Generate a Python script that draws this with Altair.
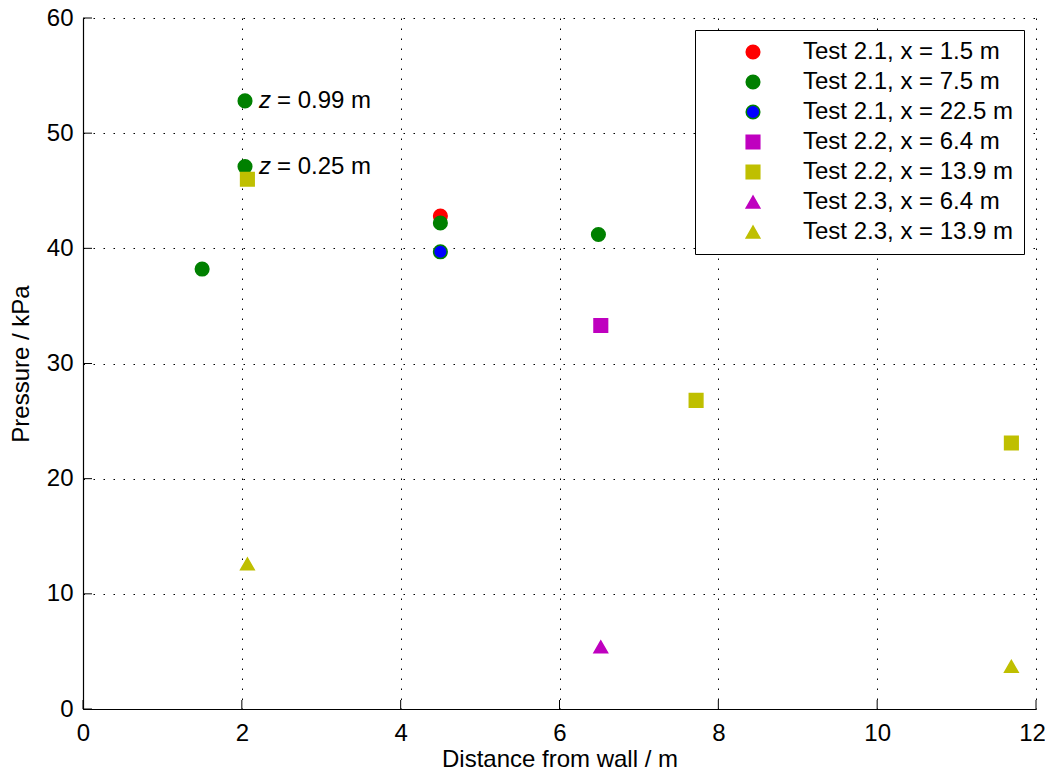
import altair as alt
import pandas as pd

FONT = "Liberation Sans"

# ---- data ----
series_names = [
    "Test 2.1, x = 1.5 m",
    "Test 2.1, x = 7.5 m",
    "Test 2.1, x = 22.5 m",
    "Test 2.2, x = 6.4 m",
    "Test 2.2, x = 13.9 m",
    "Test 2.3, x = 6.4 m",
    "Test 2.3, x = 13.9 m",
]
series_fill = ["#ff0000", "#008000", "#0000ff", "#bf00bf", "#bfbf00", "#bf00bf", "#bfbf00"]
series_stroke = ["#ff0000", "#008000", "#008000", "#bf00bf", "#bfbf00", "#bf00bf", "#bfbf00"]
series_shape = ["circle", "circle", "circle", "square", "square", "triangle-up", "triangle-up"]
series_size = [185, 185, 185, 130, 130, 190, 190]

t21_x15_dist = [4.5]
t21_x15_p = [42.8]
t21_x75_dist = [1.5, 2.04, 2.04, 4.5, 6.49]
t21_x75_p = [38.2, 52.8, 47.1, 42.2, 41.2]
t21_x225_dist = [4.5]
t21_x225_p = [39.7]
t22_x64_dist = [6.52]
t22_x64_p = [33.3]
t22_x139_dist = [2.07, 7.72, 11.69]
t22_x139_p = [46.0, 26.8, 23.1]
t23_x64_dist = [6.52]
t23_x64_p = [5.4]
t23_x139_dist = [2.07, 11.69]
t23_x139_p = [12.6, 3.7]

ann_dist = [2.04, 2.04]
ann_p = [52.8, 47.1]
ann_var = ["z", "z"]
ann_rest = ["= 0.99 m", "= 0.25 m"]

x_ticks = [0, 2, 4, 6, 8, 10, 12]
y_ticks = [0, 10, 20, 30, 40, 50, 60]

PLOT_W = 953
PLOT_H = 691
TICK_LEN = 9

# ---- table ----
groups = [
    (t21_x15_dist, t21_x15_p),
    (t21_x75_dist, t21_x75_p),
    (t21_x225_dist, t21_x225_p),
    (t22_x64_dist, t22_x64_p),
    (t22_x139_dist, t22_x139_p),
    (t23_x64_dist, t23_x64_p),
    (t23_x139_dist, t23_x139_p),
]
rows = []
for name, (ds, ps) in zip(series_names, groups):
    for d, p in zip(ds, ps):
        rows.append({"series": name, "dist": d, "pressure": p})
df = pd.DataFrame(rows)
ann_df = pd.DataFrame({"dist": ann_dist, "pressure": ann_p, "var": ann_var, "rest": ann_rest})
xt_df = pd.DataFrame({"v": x_ticks})
yt_df = pd.DataFrame({"v": y_ticks})

x_scale = alt.Scale(domain=[0, 12], nice=False, zero=False)
y_scale = alt.Scale(domain=[0, 60], nice=False, zero=False)

legend = alt.Legend(
    title=None, orient="top-right", offset=12, padding=10,
    strokeColor="black", fillColor="white", cornerRadius=0,
    labelFont=FONT, labelFontSize=24, labelColor="black", labelLimit=400,
    symbolOffset=36, labelOffset=38, rowPadding=6, symbolStrokeWidth=1.5,
)

main_x_axis = alt.Axis(
    orient="bottom", values=x_ticks, ticks=False, domain=True, domainColor="black",
    domainWidth=1.2, grid=True, gridColor="black", gridDash=[1.5, 8.5], gridWidth=1,
    labelFont=FONT, labelFontSize=24, labelColor="black", labelPadding=12,
    labelFlush=False, labelOverlap=False,
    labelOffset={"condition": {"test": "datum.value == 12", "value": -4}, "value": 0},
    title="Distance from wall / m", titleFont=FONT, titleFontSize=24,
    titleFontWeight="normal", titleColor="black", titlePadding=2,
)
main_y_axis = alt.Axis(
    orient="left", values=y_ticks, ticks=False, domain=True, domainColor="black",
    domainWidth=1.2, grid=True, gridColor="black", gridDash=[1.5, 8.5], gridWidth=1,
    labelFont=FONT, labelFontSize=24, labelColor="black", labelPadding=10,
    labelFlush=False, labelOverlap=False,
    title="Pressure / kPa", titleFont=FONT, titleFontSize=24,
    titleFontWeight="normal", titleColor="black", titlePadding=13,
)

points = alt.Chart(df).mark_point(filled=True, opacity=1, strokeWidth=1.5).encode(
    x=alt.X("dist:Q", scale=x_scale, axis=main_x_axis),
    y=alt.Y("pressure:Q", scale=y_scale, axis=main_y_axis),
    fill=alt.Fill("series:N", scale=alt.Scale(domain=series_names, range=series_fill), legend=legend),
    stroke=alt.Stroke("series:N", scale=alt.Scale(domain=series_names, range=series_stroke), legend=legend),
    shape=alt.Shape("series:N", scale=alt.Scale(domain=series_names, range=series_shape), legend=legend),
    size=alt.Size("series:N", scale=alt.Scale(domain=series_names, range=series_size), legend=legend),
)

# inward-pointing axis ticks (positions along the axis come from the scales)
x_tick_marks = alt.Chart(xt_df).mark_rule(color="black", strokeWidth=1).encode(
    x=alt.X("v:Q", scale=x_scale, axis=None),
    y=alt.value(PLOT_H),
    y2=alt.value(PLOT_H - TICK_LEN),
)
y_tick_marks = alt.Chart(yt_df).mark_rule(color="black", strokeWidth=1).encode(
    y=alt.Y("v:Q", scale=y_scale, axis=None),
    x=alt.value(0),
    x2=alt.value(TICK_LEN),
)

ann_var_layer = alt.Chart(ann_df).mark_text(
    align="left", baseline="middle", dx=14, font=FONT, fontSize=24, fontStyle="italic", color="black"
).encode(
    x=alt.X("dist:Q", scale=x_scale, axis=None),
    y=alt.Y("pressure:Q", scale=y_scale, axis=None),
    text="var:N",
)
ann_rest_layer = alt.Chart(ann_df).mark_text(
    align="left", baseline="middle", dx=32, font=FONT, fontSize=24, color="black"
).encode(
    x=alt.X("dist:Q", scale=x_scale, axis=None),
    y=alt.Y("pressure:Q", scale=y_scale, axis=None),
    text="rest:N",
)

chart = alt.layer(points, x_tick_marks, y_tick_marks, ann_var_layer, ann_rest_layer).resolve_axis(
    x="independent", y="independent"
).properties(
    width=PLOT_W, height=PLOT_H,
    autosize=alt.AutoSizeParams(type="none"),
    padding={"left": 75, "top": 10, "right": 9, "bottom": 59},
    background="white",
).configure_view(strokeWidth=0)

chart.save("out.html", embed_options={"renderer": "svg", "actions": False})
